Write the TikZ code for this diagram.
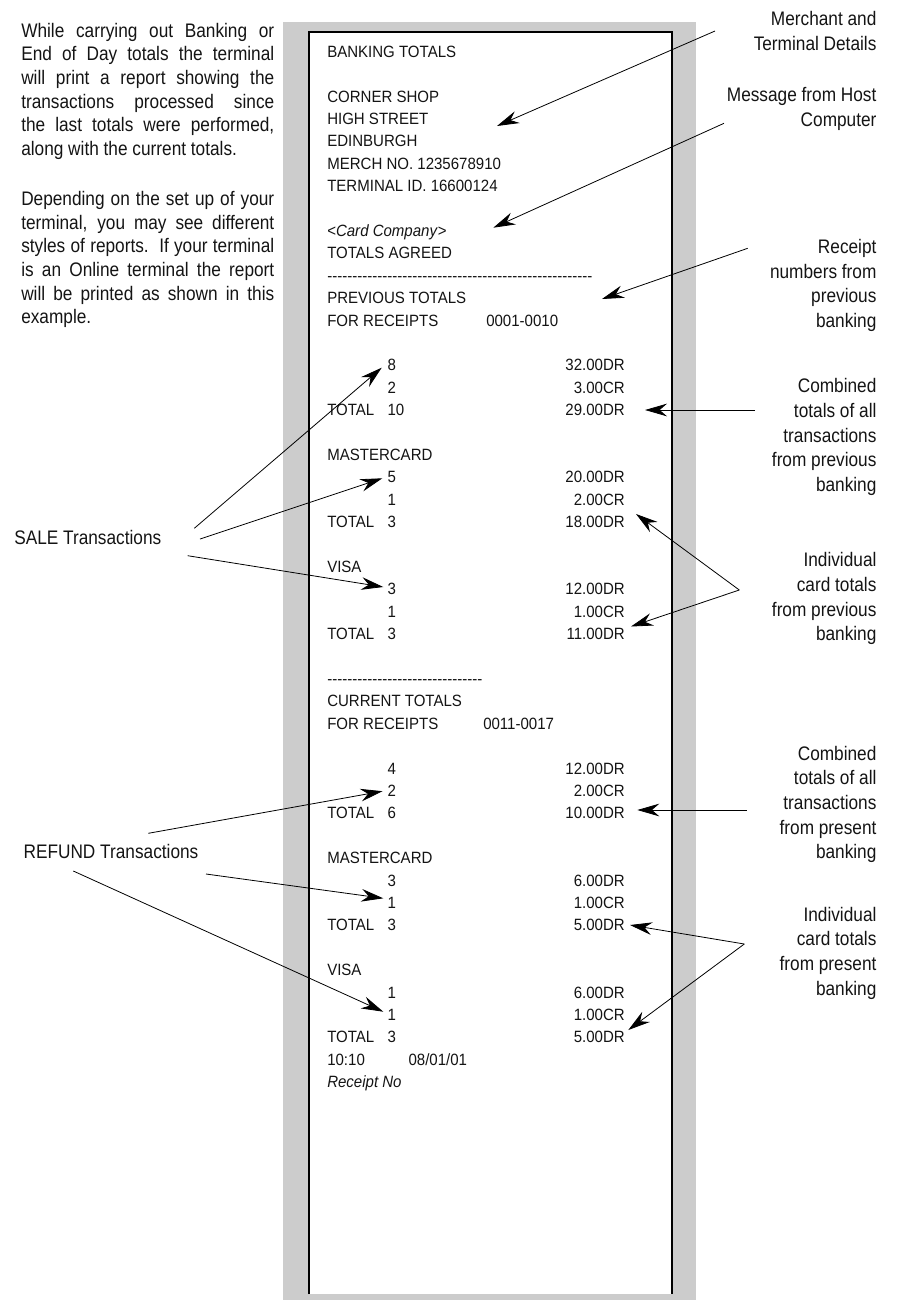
\documentclass[tikz,border=0pt]{standalone}
\usepackage{fontspec}
\setmainfont{Liberation Sans}
\newfontfamily\rcptfont{Liberation Sans}[FakeStretch=0.92]
\newfontfamily\lblfont{Liberation Sans}[FakeStretch=0.88]
\usetikzlibrary{arrows.meta}
\definecolor{paperedge}{gray}{0.8}
\definecolor{ink}{gray}{0.08}
\def\hfive{-{}-{}-{}-{}-{}}
\def\hten{\hfive\hfive}
\newcommand\jline[1]{\makebox[189.75pt][s]{#1}}
\begin{document}
\begin{tikzpicture}[x=0.75pt,y=-0.75pt,
  rtext/.style={font=\rcptfont\fontsize{12.25}{14}\selectfont, inner sep=0pt, anchor=base west, text=ink},
  ramt/.style={rtext, anchor=base east},
  lbl/.style={font=\lblfont\fontsize{14.7}{18}\selectfont, inner sep=0pt, anchor=base east, text=ink},
  lbll/.style={lbl, anchor=base west},
  ptr/.style={-{Stealth[length=16.5pt,width=9.5pt,inset=5.5pt]}, line width=0.6pt, draw=black}]
\useasboundingbox (0,0) rectangle (897,1300);
% paper
\fill[paperedge] (283,22) rectangle (696,1300);
\fill[white] (309,32) rectangle (672,1294);
\draw[line width=0.8pt] (309,1294) -- (309,32) -- (672,32) -- (672,1294);

% left paragraphs
\foreach \t [count=\i from 0] in {While carrying out Banking or, End of Day totals the terminal, will print a report showing the, transactions processed since}
  \node[lbll] (pa\i) at (21,{37.3+\i*23.6}) {\jline{\t}};
\node[lbll] (pa4) at (21,{37.3+4*23.6}) {\jline{the last totals were performed,}};
\node[lbll] (pa5) at (21,{37.3+5*23.6}) {along with the current totals.};
\node[lbll] (pb0) at (21,205.7) {\jline{Depending on the set up of your}};
\node[lbll] (pb1) at (21,229.3) {\jline{terminal, you may see different}};
\node[lbll] (pb2) at (21,252.9) {\jline{styles of reports.\ \ If your terminal}};
\node[lbll] (pb3) at (21,276.5) {\jline{is an Online terminal the report}};
\node[lbll] (pb4) at (21,300.1) {\jline{will be printed as shown in this}};
\node[lbll] (pb5) at (21,323.7) {example.};

% receipt text
\node[rtext] (r0) at (327,57.3) {BANKING TOTALS};
\node[rtext] (r2) at (327,102.1) {CORNER SHOP};
\node[rtext] (r3) at (327,124.5) {HIGH STREET};
\node[rtext] (r4) at (327,146.9) {EDINBURGH};
\node[rtext] (r5) at (327,169.3) {MERCH NO. 1235678910};
\node[rtext] (r6) at (327,191.7) {TERMINAL ID. 16600124};
\node[rtext] (r8) at (327,236.5) {<\textit{Card Company}>};
\node[rtext] (r9) at (327,258.9) {TOTALS AGREED};
\node[rtext] (r10) at (327,281.3) {\hten\hten\hten\hten\hten-{}-{}-{}};
\node[rtext] (r11) at (327,303.7) {PREVIOUS TOTALS};
\node[rtext] (r12) at (327,326.1) {FOR RECEIPTS};
\node[rtext] (r12b) at (486,326.1) {0001-0010};

\node[rtext] (c14) at (387.3,370.9) {8};   \node[ramt] (a14) at (625,370.9) {32.00DR};
\node[rtext] (c15) at (387.3,393.3) {2};   \node[ramt] (a15) at (625,393.3) {3.00CR};
\node[rtext] (t16) at (327,415.7) {TOTAL};
\node[rtext] (c16) at (387.3,415.7) {10};  \node[ramt] (a16) at (625,415.7) {29.00DR};

\node[rtext] (m18) at (327,460.5) {MASTERCARD};
\node[rtext] (c19) at (387.3,482.9) {5};   \node[ramt] (a19) at (625,482.9) {20.00DR};
\node[rtext] (c20) at (387.3,505.3) {1};   \node[ramt] (a20) at (625,505.3) {2.00CR};
\node[rtext] (t21) at (327,527.7) {TOTAL};
\node[rtext] (c21) at (387.3,527.7) {3};   \node[ramt] (a21) at (625,527.7) {18.00DR};

\node[rtext] (v23) at (327,572.5) {VISA};
\node[rtext] (c24) at (387.3,594.9) {3};   \node[ramt] (a24) at (625,594.9) {12.00DR};
\node[rtext] (c25) at (387.3,617.3) {1};   \node[ramt] (a25) at (625,617.3) {1.00CR};
\node[rtext] (t26) at (327,639.7) {TOTAL};
\node[rtext] (c26) at (387.3,639.7) {3};   \node[ramt] (a26) at (625,639.7) {11.00DR};

\node[rtext] (r28) at (327,684.5) {\hten\hten\hten-{}};
\node[rtext] (r29) at (327,706.9) {CURRENT TOTALS};
\node[rtext] (r30) at (327,729.3) {FOR RECEIPTS};
\node[rtext] (r30b) at (483,729.3) {0011-0017};

\node[rtext] (c32) at (387.3,774.1) {4};   \node[ramt] (a32) at (625,774.1) {12.00DR};
\node[rtext] (c33) at (387.3,796.5) {2};   \node[ramt] (a33) at (625,796.5) {2.00CR};
\node[rtext] (t34) at (327,818.9) {TOTAL};
\node[rtext] (c34) at (387.3,818.9) {6};   \node[ramt] (a34) at (625,818.9) {10.00DR};

\node[rtext] (m36) at (327,863.7) {MASTERCARD};
\node[rtext] (c37) at (387.3,886.1) {3};   \node[ramt] (a37) at (625,886.1) {6.00DR};
\node[rtext] (c38) at (387.3,908.5) {1};   \node[ramt] (a38) at (625,908.5) {1.00CR};
\node[rtext] (t39) at (327,930.9) {TOTAL};
\node[rtext] (c39) at (387.3,930.9) {3};   \node[ramt] (a39) at (625,930.9) {5.00DR};

\node[rtext] (v41) at (327,975.7) {VISA};
\node[rtext] (c42) at (387.3,998.1) {1};   \node[ramt] (a42) at (625,998.1) {6.00DR};
\node[rtext] (c43) at (387.3,1020.5) {1};  \node[ramt] (a43) at (625,1020.5) {1.00CR};
\node[rtext] (t44) at (327,1042.9) {TOTAL};
\node[rtext] (c44) at (387.3,1042.9) {3};  \node[ramt] (a44) at (625,1042.9) {5.00DR};
\node[rtext] (r45) at (327,1065.3) {10:10};
\node[rtext] (r45b) at (408.3,1065.3) {08/01/01};
\node[rtext] (r46) at (327,1087.7) {\textit{Receipt No}};

% right labels
\node[lbl] (mer1) at (876.7,25.5) {Merchant and};
\node[lbl] (mer2) at (876.7,50.2) {Terminal Details};
\node[lbl] (msg1) at (876.7,101.5) {Message from Host};
\node[lbl] (msg2) at (876.7,126.2) {Computer};
\foreach \t [count=\i from 0] in {Receipt, numbers from, previous, banking}
  \node[lbl] (rn\i) at (876.7,{253.5+\i*24.7}) {\t};
\foreach \t [count=\i from 0] in {Combined, totals of all, transactions, from previous, banking}
  \node[lbl] (cp\i) at (876.7,{392.7+\i*24.7}) {\t};
\foreach \t [count=\i from 0] in {Individual, card totals, from previous, banking}
  \node[lbl] (ip\i) at (876.7,{566.7+\i*24.7}) {\t};
\foreach \t [count=\i from 0] in {Combined, totals of all, transactions, from present, banking}
  \node[lbl] (cn\i) at (876.7,{760+\i*24.7}) {\t};
\foreach \t [count=\i from 0] in {Individual, card totals, from present, banking}
  \node[lbl] (in\i) at (876.7,{921+\i*24.7}) {\t};

\node[lbll] (sale) at (14,544.3) {SALE Transactions};
\node[lbll] (refund) at (23.3,858.3) {REFUND Transactions};

% connector end points
\coordinate (merS) at (715,31);     \coordinate (merT) at (497,126);
\coordinate (msgS) at (724,123.3);  \coordinate (msgT) at (493.3,227.7);
\coordinate (rnS) at (747.7,248.3); \coordinate (rnT) at (602,299);
\coordinate (cpS) at (755,410);     \coordinate (cpT) at (645,410);
\coordinate (ipA) at (739.3,590);   \coordinate (ipT1) at (636,514); \coordinate (ipT2) at (631,626.5);
\coordinate (cnS) at (746.7,810);   \coordinate (cnT) at (637.3,810);
\coordinate (inA) at (744.3,944);   \coordinate (inT1) at (630,925); \coordinate (inT2) at (628.3,1030);
\coordinate (sS1) at (194.3,528.3); \coordinate (sT1) at (381.7,367.7);
\coordinate (sS2) at (200,539);     \coordinate (sT2) at (382.3,478.3);
\coordinate (sS3) at (187.7,555.7); \coordinate (sT3) at (383.3,587);
\coordinate (fS1) at (148.3,833.3); \coordinate (fT1) at (382.5,791.2);
\coordinate (fS2) at (206,874);     \coordinate (fT2) at (383.3,898.3);
\coordinate (fS3) at (73.3,871);    \coordinate (fT3) at (383.3,1011.7);

\draw[ptr] (merS) -- (merT);
\draw[ptr] (msgS) -- (msgT);
\draw[ptr] (rnS) -- (rnT);
\draw[ptr] (cpS) -- (cpT);
\draw[ptr] (ipA) -- (ipT1);
\draw[ptr] (ipA) -- (ipT2);
\draw[ptr] (cnS) -- (cnT);
\draw[ptr] (inA) -- (inT1);
\draw[ptr] (inA) -- (inT2);
\draw[ptr] (sS1) -- (sT1);
\draw[ptr] (sS2) -- (sT2);
\draw[ptr] (sS3) -- (sT3);
\draw[ptr] (fS1) -- (fT1);
\draw[ptr] (fS2) -- (fT2);
\draw[ptr] (fS3) -- (fT3);
\end{tikzpicture}
\end{document}
